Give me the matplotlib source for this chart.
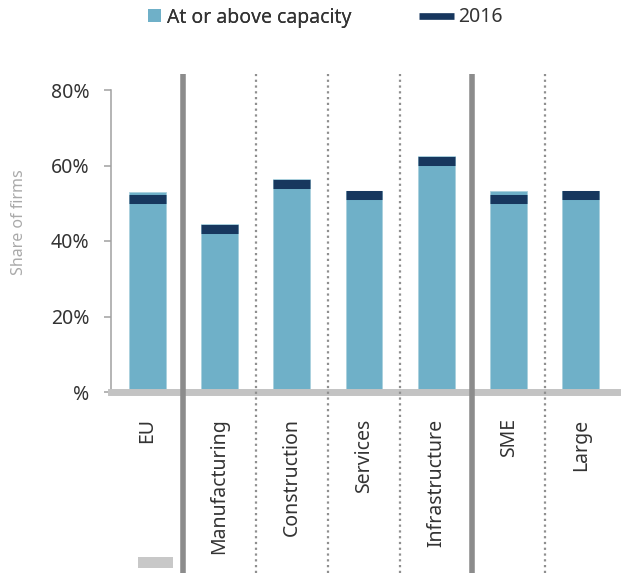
"""
Share of firms at or above capacity, by sector and firm size, with 2016 markers.
"""

import numpy as np
import matplotlib.pyplot as plt
from matplotlib.patches import Patch, Rectangle
from matplotlib.lines import Line2D

plt.rcParams['font.family'] = ['Noto Sans', 'DejaVu Sans']

categories = ['EU', 'Manufacturing', 'Construction', 'Services', 'Infrastructure', 'SME', 'Large']
capacity = [53.1, 44.4, 56.3, 53.3, 62.4, 53.2, 53.3]   # at or above capacity (%)
share_2016 = [51.2, 43.1, 55.2, 52.2, 61.3, 51.2, 52.1]  # 2016 (%)
y_ticks = [0, 20, 40, 60, 80]
y_tick_labels = ['%', '20%', '40%', '60%', '80%']
thick_separators = [0.5, 4.5]              # EU | sectors | size groups
dotted_separators = [1.5, 2.5, 3.5, 5.5]

bar_color = '#6fb0c8'
mark_color = '#17375e'
text_color = '#333333'

W, H = 622, 573
fig = plt.figure(figsize=(W / 100, H / 100), dpi=100)
ax = fig.add_axes([111 / W, 1 - 392 / H, (617 - 111) / W, (392 - 90) / H])

x = np.arange(len(categories))
bar_w = 0.51
ax.bar(x, capacity, width=bar_w, color=bar_color, edgecolor='#a9d0de', linewidth=0.6, zorder=2)
ax.hlines(share_2016, x - bar_w / 2, x + bar_w / 2, color=mark_color, linewidth=6.5, zorder=3)

ax.set_xlim(-0.5, len(categories) - 0.5)
ax.set_ylim(0, 80)

# grey baseline band
ax.axhline(0, color='#c3c3c3', linewidth=5, zorder=4, clip_on=False)

# group separators run past the plot area, top to bottom of the picture
y_lo, y_hi = -48, 84.2
ax.vlines(thick_separators, y_lo, y_hi, color='#8c8c8c', linewidth=4, clip_on=False, zorder=5)
ax.vlines(dotted_separators, y_lo, y_hi, color='#8f8f8f', linewidth=1.6,
          linestyles=[(0, (1.0, 1.6))], clip_on=False, zorder=5)

ax.set_xticks(x)
ax.set_xticklabels(categories, rotation=90, fontsize=14, color=text_color)
ax.set_yticks(y_ticks)
ax.set_yticklabels(y_tick_labels, fontsize=14, color=text_color)
ax.tick_params(axis='x', length=0, pad=19)
ax.tick_params(axis='y', length=5, width=1.1, color='#a0a0a0', pad=10.5)

for side in ['top', 'right', 'bottom']:
    ax.spines[side].set_visible(False)
ax.spines['left'].set_color('#a0a0a0')
ax.spines['left'].set_linewidth(1.1)

fig.text(19 / W, 1 - 222 / H, 'Share of firms', rotation=90, ha='center', va='center',
         fontsize=11.5, color='#aaaaaa')

# legend, two separate entries
leg1 = fig.legend(handles=[Patch(facecolor=bar_color, edgecolor='none')], labels=['At or above capacity'],
                  loc='center left', bbox_to_anchor=(148 / W, 1 - 17.5 / H), frameon=False,
                  fontsize=14, handlelength=0.67, handleheight=0.67, handletextpad=0.3,
                  borderpad=0, borderaxespad=0, labelcolor=text_color)
fig.add_artist(leg1)
fig.legend(handles=[Line2D([], [], color=mark_color, linewidth=4.8, solid_capstyle='butt')], labels=['2016'],
           loc='center left', bbox_to_anchor=(419 / W, 1 - 17.5 / H), frameon=False,
           fontsize=14, handlelength=1.8, handletextpad=0.2,
           borderpad=0, borderaxespad=0, labelcolor=text_color)

# small grey swatch left at the bottom of the original
fig.patches.append(Rectangle((138 / W, 1 - 568 / H), 35 / W, 11 / H, transform=fig.transFigure,
                             facecolor='#c8c8c8', edgecolor='none'))

fig.savefig('out.png', dpi=100)
